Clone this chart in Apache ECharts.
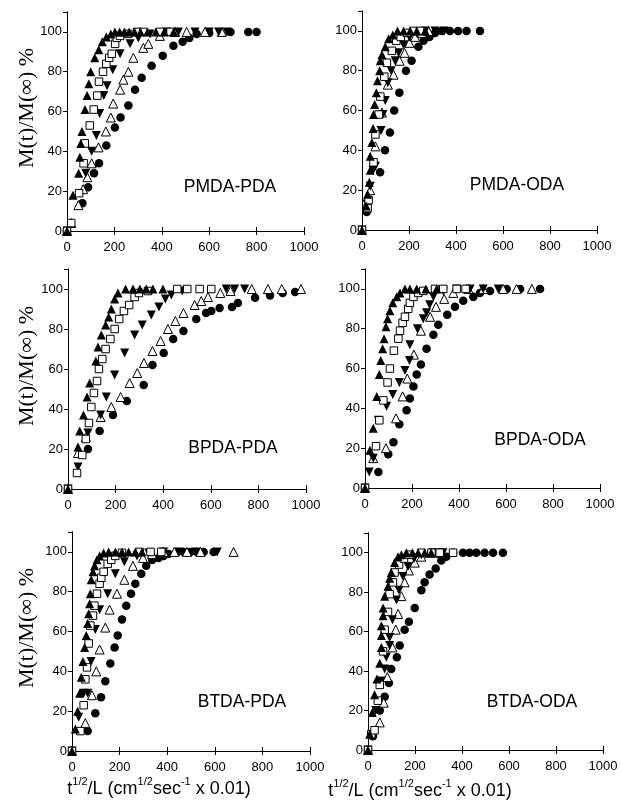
<!DOCTYPE html>
<html>
<head>
<meta charset="utf-8">
<script src="https://cdn.jsdelivr.net/npm/echarts@6/dist/echarts.min.js"></script>
<style>
html,body{margin:0;padding:0;background:#fff;}
#chart{width:621px;height:805px;}
</style>
</head>
<body>
<div id="chart"></div>
<script>
// ---------- data (x: t^1/2/L, y: M(t)/M(inf) %) ----------
const panelNames = ['PMDA-PDA','PMDA-ODA','BPDA-PDA','BPDA-ODA','BTDA-PDA','BTDA-ODA'];
const xTicks = [0,200,400,600,800,1000];
const yTicks = [0,20,40,60,80,100];

// PMDA-PDA
const p1TriUp = [[0,0],[25,18],[49,29],[54,37],[58,44],[63,50],[76,61],[85,68],[92,74],[100,80],[117,87],[134,91],[149,95],[166,97.5],[185,99],[202,100],[222,100],[242,100],[262,100],[285,100],[310,100],[340,100],[375,100],[410,100],[450,100]];
const p1Square = [[0,0],[18,4],[51,19],[70,34],[75,44],[96,53],[113,61],[128,68],[135,75],[152,80],[166,84],[178,87],[189,89],[203,94],[210,97],[224,98],[258,99],[296,100],[322,100],[392,100],[437,100]];
const p1TriDown = [[0,0],[79,29],[104,40],[124,48],[138,59],[155,68],[169,73],[193,81],[224,89],[266,94],[301,97],[350,99],[420,100],[470,100],[540,100],[600,100],[640,100],[675,100]];
const p1TriOpen = [[0,0],[18,4],[48,13],[68,21],[86,27],[104,34],[133,42],[164,50],[185,57],[195,64],[224,71],[238,76],[259,80],[280,87],[322,92],[343,94],[392,98],[456,100],[505,100],[582,100],[653,100]];
const p1Circle = [[0,0],[65,14],[89,22],[114,29],[135,34],[166,43],[202,52],[226,57],[259,63],[287,71],[315,77],[357,83],[404,88],[449,93],[488,95],[516,97],[547,99],[600,99.5],[690,100],[765,100],[800,100]];

// PMDA-ODA
const p2TriUp = [[0,0],[18,12],[24,18],[31,24],[35,30],[35,37],[42,44],[47,51],[49,58],[54,63],[61,69],[66,75],[75,80],[78,85],[85,88],[99,92],[113,96],[131,98],[151,100],[177,100],[205,100],[233,100],[269,100]];
const p2Square = [[0,0],[24,11],[28,15],[49,34],[57,48],[71,58],[78,67],[95,77],[106,84],[127,90],[146,95],[165,97],[191,99],[219,100],[247,100]];
const p2TriDown = [[0,0],[21,13],[35,22],[47,30],[57,32],[81,50],[89,58],[99,65],[110,74],[124,80],[141,85],[156,89],[177,93],[202,97],[233,99],[269,100],[311,100],[350,100]];
const p2TriOpen = [[0,0],[35,20],[57,42],[85,59],[110,73],[134,78],[160,85],[181,89],[202,94],[226,97],[255,99],[283,100]];
const p2Circle = [[0,0],[20,9],[77,29],[98,40],[119,49],[137,60],[159,69],[187,80],[211,85],[240,92],[262,95],[287,97],[311,99],[339,100],[374,100],[409,100],[445,100],[502,100]];

// BPDA-PDA
const p3TriUp = [[0,0],[42,21],[49,29],[65,37],[80,46],[91,53],[117,64],[126,71],[140,77],[158,82],[171,86],[182,90],[196,95],[210,98],[242,100],[273,100],[302,100],[329,100],[357,100],[399,100]];
const p3Square = [[0,0],[38,8],[60,17],[75,25],[88,33],[98,41],[109,48],[122,54],[130,60],[144,65],[158,70],[178,75],[196,80],[215,85],[235,89],[257,92],[280,96],[298,98],[336,99],[459,100],[501,100],[553,100],[602,100]];
const p3TriDown = [[0,0],[42,11],[84,28],[137,37],[161,46],[196,57],[238,68],[280,77],[312,82],[350,87],[382,91],[409,95],[434,97],[480,99],[665,100],[700,100],[742,100]];
const p3TriOpen = [[0,0],[42,18],[75,26],[137,36],[182,41],[221,46],[259,53],[291,58],[319,63],[355,69],[389,74],[420,80],[451,84],[485,88],[532,92],[560,94],[588,96],[640,98],[683,99],[772,100],[840,100],[898,100],[979,100]];
const p3Circle = [[0,0],[84,20],[133,29],[189,37],[247,44],[318,52],[355,62],[402,68],[442,75],[485,79],[539,85],[580,88],[602,89],[637,90.5],[689,91],[714,93],[786,95.6],[849,96.8],[902,98],[954,98.5]];

// BPDA-ODA
const p4TriUp = [[0,0],[21,19],[35,30],[50,46],[61,57],[67,64],[75,70],[81,75],[89,81],[96,85],[106,89],[118,93],[135,96],[149,98],[170,100],[191,100],[220,100],[259,100],[305,100]];
const p4Square = [[0,0],[47,21],[61,34],[78,44],[96,53],[106,60],[123,69],[142,75],[149,79],[160,83],[170,86],[184,90],[191,93],[206,96],[227,98],[248,99],[298,100],[333,100],[390,100],[428,100]];
const p4TriDown = [[0,0],[18,8],[35,15],[57,34],[92,41],[118,47],[146,53],[170,59],[189,64],[191,72],[223,80],[248,85],[262,88],[275,92],[291,96],[333,99],[390,100],[447,100],[503,100],[567,100]];
const p4TriOpen = [[0,0],[35,15],[89,20],[132,35],[160,46],[180,55],[208,67],[238,79],[277,86],[302,91],[337,95],[376,98],[440,100],[503,100],[588,100],[645,100],[710,100]];
const p4Circle = [[0,0],[57,8],[99,17],[121,23],[146,32],[177,39],[191,45],[206,51],[220,57],[238,62],[262,70],[291,77],[312,82],[350,87],[383,91],[418,94],[461,96],[489,98],[532,99],[603,100],[660,100],[745,100]];

// BTDA-PDA
const p5TriUp = [[0,0],[14,11],[24,20],[32,29],[39,37],[46,45],[53,52],[60,58],[66,64],[70,69],[74,74],[77,79],[81,86],[88,90],[95,93],[105,96],[116,98],[133,99.5],[154,100],[182,100],[210,100],[238,100],[266,100],[294,100]];
const p5Square = [[0,0],[35,10],[49,23],[56,36],[63,42],[70,54],[77,63],[88,68],[94,73],[105,79],[116,84],[123,87],[133,90],[150,94],[165,96],[182,98],[210,99.5],[284,100],[330,100],[375,100]];
const p5TriDown = [[0,0],[28,17],[49,29],[66,29],[80,45],[98,61],[116,71],[150,79],[182,89],[220,95],[273,98],[322,99.5],[385,100],[450,100],[520,100],[610,100]];
const p5TriOpen = [[0,0],[56,14],[84,28],[102,40],[116,51],[140,62],[158,71],[189,79],[220,86],[256,93],[298,97],[336,99],[385,100],[430,100],[483,100],[540,100],[679,100]];
const p5Circle = [[0,0],[66,10],[98,19],[122,27],[140,35],[161,44],[179,52],[192,58],[210,66],[228,73],[248,79],[266,84],[291,89],[312,93],[337,96],[364,97],[385,98],[406,99],[441,100],[469,100],[497,100],[525,100],[553,100],[595,100]];

// BTDA-ODA
const p6TriUp = [[0,0],[7,8],[18,19],[28,28],[38,36],[50,44],[57,52],[57,58],[57,63],[64,68],[64,72],[71,78],[85,83],[92,87],[99,90],[113,95],[128,98],[142,99],[163,100],[189,100],[213,100],[241,100],[269,100]];
const p6Square = [[0,0],[14,8],[28,10],[42,25],[50,33],[64,50],[71,61],[85,70],[92,79],[106,85],[113,90],[132,94],[153,97],[177,99],[227,100],[270,100],[305,100],[362,100]];
const p6TriDown = [[0,0],[33,20],[57,35],[71,41],[78,47],[92,53],[92,57],[104,66],[121,76],[132,81],[149,88],[170,93],[196,97],[227,99],[277,100],[319,100]];
const p6TriOpen = [[0,0],[50,14],[67,24],[82,37],[104,52],[118,61],[128,69],[142,78],[156,85],[174,91],[199,95],[227,98],[262,100],[300,100]];
const p6Circle = [[0,0],[21,7],[50,20],[71,27],[89,34],[99,41],[123,47],[135,53],[156,61],[174,65],[199,72],[227,81],[241,85],[262,89],[288,92],[312,96],[333,98],[362,100],[404,100],[432,100],[461,100],[496,100],[532,100],[574,100]];

const panelData = [
  [p1Circle, p1TriOpen, p1TriDown, p1Square, p1TriUp],
  [p2Circle, p2TriOpen, p2TriDown, p2Square, p2TriUp],
  [p3Circle, p3TriOpen, p3TriDown, p3Square, p3TriUp],
  [p4Circle, p4TriOpen, p4TriDown, p4Square, p4TriUp],
  [p5Circle, p5TriOpen, p5TriDown, p5Square, p5TriUp],
  [p6Circle, p6TriOpen, p6TriDown, p6Square, p6TriUp]
];

// ---------- layout & style ----------
const grids = [
  {left:67, top:12, width:237, height:219},
  {left:362, top:11, width:235, height:219},
  {left:68, top:269, width:238, height:220},
  {left:365, top:269, width:235, height:219},
  {left:72, top:532, width:238, height:219},
  {left:368, top:533, width:235, height:217}
];
const labelPos = [[230,187],[517,185],[233,448],[540,440],[242,702],[532,702]];
const markers = [
  {symbol:'circle', rotate:0, size:8.5, fill:'#000'},
  {symbol:'triangle', rotate:0, size:9, fill:'#fff'},
  {symbol:'triangle', rotate:180, size:9, fill:'#000'},
  {symbol:'rect', rotate:0, size:7.5, fill:'#fff'},
  {symbol:'triangle', rotate:0, size:9, fill:'#000'}
];
const SANS = '"Liberation Sans", Arial, sans-serif';
const SERIF = '"Liberation Serif", "Times New Roman", serif';

const xAxes = [], yAxes = [], series = [];
grids.forEach((g, i) => {
  const line = {show:true, lineStyle:{color:'#000', width:1}};
  xAxes.push({gridIndex:i, type:'value', position:'bottom', min:0, max:1000, interval:200,
    axisLine:line, axisTick:{show:true, inside:true, length:4, lineStyle:{color:'#000'}},
    axisLabel:{show:true, color:'#000', fontSize:13, fontFamily:SANS, margin:10,
      formatter: v => (xTicks.indexOf(v) >= 0 ? String(v) : '')},
    splitLine:{show:false}});
  xAxes.push({gridIndex:i, type:'value', position:'top', min:0, max:1000, interval:200,
    axisLine:line, axisTick:{show:true, inside:true, length:4, lineStyle:{color:'#000'}},
    axisLabel:{show:false}, splitLine:{show:false}});
  yAxes.push({gridIndex:i, type:'value', position:'left', min:0, max:110, interval:20,
    axisLine:line, axisTick:{show:true, inside:false, length:4, lineStyle:{color:'#000'}},
    axisLabel:{show:true, color:'#000', fontSize:13, fontFamily:SANS, margin:5, showMaxLabel:false,
      formatter: v => (yTicks.indexOf(v) >= 0 ? String(v) : '')},
    splitLine:{show:false}});
  yAxes.push({gridIndex:i, type:'value', position:'right', min:0, max:110, interval:20,
    axisLine:line, axisTick:{show:true, inside:true, length:4, lineStyle:{color:'#000'}},
    axisLabel:{show:false}, splitLine:{show:false}});
  panelData[i].forEach((d, k) => {
    const m = markers[k];
    series.push({type:'scatter', xAxisIndex:2*i, yAxisIndex:2*i, data:d,
      symbol:m.symbol, symbolSize:m.size, symbolRotate:m.rotate, silent:true,
      itemStyle:{color:m.fill, borderColor:'#000', borderWidth: m.fill === '#fff' ? 1 : 0, opacity:1}});
  });
});

const graphics = [];
panelNames.forEach((n, i) => {
  graphics.push({type:'text', x:labelPos[i][0], y:labelPos[i][1],
    style:{text:n, fill:'#000', font:'17.5px ' + SANS, textAlign:'center', textVerticalAlign:'middle'}});
});
[[27,108],[27,366],[27,628]].forEach(p => {
  graphics.push({type:'text', x:p[0], y:p[1], rotation:Math.PI/2,
    style:{text:'M(t)/M(\u221E) %', fill:'#000', font:'22px ' + SERIF, textAlign:'center', textVerticalAlign:'middle'}});
});
const xTitle = '{a|t}{s|1/2}{a|/L (cm}{s|1/2}{a|sec}{s|-1}{a| x 0.01)}';
const xRich = {
  a:{fontSize:18, fontFamily:SANS, color:'#000', lineHeight:22, verticalAlign:'bottom'},
  s:{fontSize:11, fontFamily:SANS, color:'#000', lineHeight:22, verticalAlign:'top'}
};
[[159,787],[420,789]].forEach(p => {
  graphics.push({type:'text', x:p[0], y:p[1],
    style:{text:xTitle, rich:xRich, fill:'#000', textAlign:'center', textVerticalAlign:'middle'}});
});

const chart = echarts.init(document.getElementById('chart'), null, {renderer:'canvas'});
chart.setOption({
  animation:false,
  backgroundColor:'#fff',
  grid: grids.map(g => Object.assign({containLabel:false}, g)),
  xAxis: xAxes,
  yAxis: yAxes,
  series: series,
  graphic: graphics
});
</script>
</body>
</html>
